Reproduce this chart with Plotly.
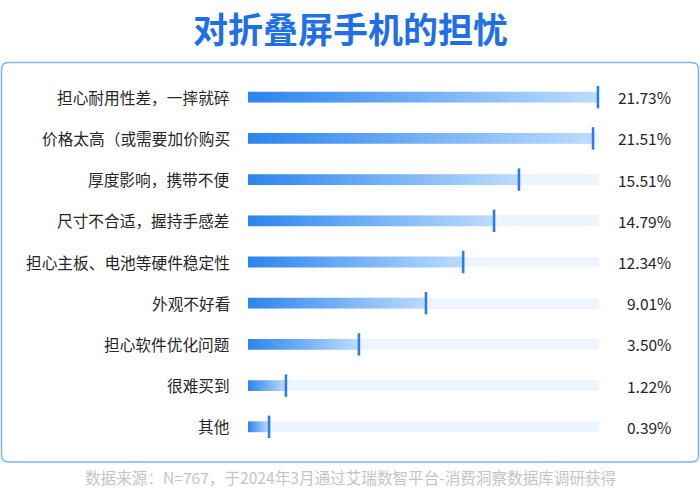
import plotly.graph_objects as go

# ---------------- data ----------------
categories = [
    "担心耐用性差，一摔就碎",
    "价格太高（或需要加价购买",
    "厚度影响，携带不便",
    "尺寸不合适，握持手感差",
    "担心主板、电池等硬件稳定性",
    "外观不好看",
    "担心软件优化问题",
    "很难买到",
    "其他",
]
percent_values = [21.73, 21.51, 15.51, 14.79, 12.34, 9.01, 3.50, 1.22, 0.39]
# bar lengths as drawn in the picture, in % of the full track
bar_lengths = [99.7, 98.3, 77.2, 70.1, 61.3, 50.7, 31.6, 10.8, 6.0]
track_full = 100

title_text = "对折叠屏手机的担忧"
source_text = "数据来源：N=767，于2024年3月通过艾瑞数智平台-消费洞察数据库调研获得"

# ---------------- layout constants ----------------
W, H = 700, 489
X0_PX, TRACK_END_PX = 248, 599
ROW0_PX, ROW_STEP = 97.2, 41.2
px_per_unit = (TRACK_END_PX - X0_PX) / track_full
x_range = [-X0_PX / px_per_unit, (W - X0_PX) / px_per_unit]
y_range = [(H - ROW0_PX) / ROW_STEP, -ROW0_PX / ROW_STEP]
half_h = 5.4 / ROW_STEP

FONT = "Noto Sans CJK SC"
fig = go.Figure()

# track background
fig.add_trace(go.Bar(
    y=list(range(len(categories))), x=[track_full] * len(categories),
    orientation="h", width=2 * half_h, marker=dict(color="#eef5fe", line=dict(width=0)),
    hoverinfo="skip", showlegend=False,
))

# gradient bars
for i, v in enumerate(bar_lengths):
    fig.add_trace(go.Scatter(
        x=[0, v, v, 0, 0],
        y=[i - half_h, i - half_h, i + half_h, i + half_h, i - half_h],
        mode="lines", fill="toself", line=dict(width=0),
        fillgradient=dict(type="horizontal",
                          colorscale=[[0, "#2c84ee"], [1, "#bcdcfd"]],
                          start=0, stop=v),
        hoverinfo="skip", showlegend=False,
    ))

# end tick markers
fig.add_trace(go.Scatter(
    x=bar_lengths, y=list(range(len(categories))), mode="markers",
    marker=dict(symbol="line-ns", size=16, line=dict(width=2.6, color="#2a7de8")),
    hoverinfo="skip", showlegend=False,
))

annotations = []
for i, (c, p) in enumerate(zip(categories, percent_values)):
    annotations.append(dict(
        x=232 / W, xref="paper", y=i, yref="y", text=c, showarrow=False,
        xanchor="right", yanchor="middle",
        font=dict(family=FONT, size=15.7, color="#262626"),
    ))
    annotations.append(dict(
        x=673 / W, xref="paper", y=i, yref="y", text=f"{p:.2f}%", showarrow=False,
        xanchor="right", yanchor="middle",
        font=dict(family=FONT, size=15.5, color="#262626"),
    ))

annotations.append(dict(
    x=0.5, xref="paper", y=1 - 28 / H, yref="paper", text=f"<b>{title_text}</b>",
    showarrow=False, xanchor="center", yanchor="middle",
    font=dict(family=FONT, size=35, color="#1f6fe6"),
))
annotations.append(dict(
    x=0.5, xref="paper", y=1 - 477 / H, yref="paper", text=source_text,
    showarrow=False, xanchor="center", yanchor="middle",
    font=dict(family=FONT, size=15.6, color="#c4c4c4"),
))

# rounded panel border
x0, x1 = 1.5 / W, 698.5 / W
y0, y1 = 1 - 462 / H, 1 - 62.5 / H
rx, ry = 7 / W, 7 / H
path = (f"M {x0+rx},{y1} L {x1-rx},{y1} Q {x1},{y1} {x1},{y1-ry} "
        f"L {x1},{y0+ry} Q {x1},{y0} {x1-rx},{y0} L {x0+rx},{y0} "
        f"Q {x0},{y0} {x0},{y0+ry} L {x0},{y1-ry} Q {x0},{y1} {x0+rx},{y1} Z")

fig.update_layout(
    width=W, height=H, margin=dict(l=0, r=0, t=0, b=0),
    paper_bgcolor="white", plot_bgcolor="rgba(0,0,0,0)",
    xaxis=dict(range=x_range, visible=False, fixedrange=True),
    yaxis=dict(range=y_range, visible=False, fixedrange=True),
    showlegend=False, annotations=annotations, hovermode=False,
    shapes=[dict(type="path", path=path, xref="paper", yref="paper",
                 line=dict(color="#7cb4f4", width=1.5), layer="below")],
    bargap=0,
)

fig.write_html("out.html")
